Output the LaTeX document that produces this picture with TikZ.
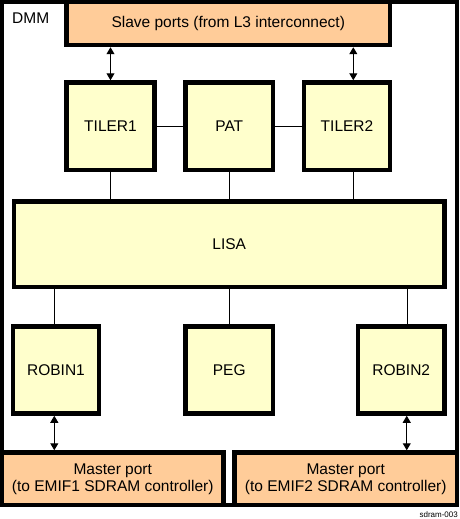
\documentclass[tikz,border=0pt]{standalone}
\usepackage{fontspec}
\setmainfont{Liberation Sans}
\usetikzlibrary{arrows.meta}
\definecolor{peach}{HTML}{FFCC99}
\definecolor{paleyellow}{HTML}{FFFFCC}
\tikzset{
  blk/.style={draw=black, line width=4.5pt, rectangle, inner sep=0pt,
    font=\fontsize{15.5}{16.7}\selectfont},
  port/.style={blk, fill=peach, align=center},
  unit/.style={blk, fill=paleyellow},
  wire/.style={draw=black, line width=1pt},
  biarrow/.style={wire, {Triangle[width=8pt,length=7pt]}-{Triangle[width=8pt,length=7pt]}},
}
\begin{document}
\begin{tikzpicture}[x=1pt,y=-1pt]
\useasboundingbox (0,0) rectangle (459,519);
\fill[white] (0,0) rectangle (459,519);
% DMM frame
\draw[line width=4pt] (2,2) rectangle (457,505);
\node[anchor=base west, inner sep=0pt, font=\fontsize{15.5}{16.7}\selectfont] (dmm) at (12,23.3) {DMM};
% ports
\node[port, minimum width=323.5pt, minimum height=43pt, text depth=2.3pt] (slave) at (228.25,23.5) {Slave ports (from L3 interconnect)};
\node[port, minimum width=221.5pt, minimum height=52.5pt, text depth=1.9pt] (m1) at (112.75,478.75) {Master port\\(to EMIF1 SDRAM controller)};
\node[port, minimum width=222.5pt, minimum height=52.5pt, text depth=1.9pt] (m2) at (345.75,478.75) {Master port\\(to EMIF2 SDRAM controller)};
% units
\node[unit, minimum width=88pt, minimum height=87.5pt] (tiler1) at (110.5,126.25) {TILER1};
\node[unit, minimum width=87.5pt, minimum height=87.5pt] (pat) at (229.25,126.25) {PAT};
\node[unit, minimum width=86pt, minimum height=87.5pt] (tiler2) at (347,126.25) {TILER2};
\node[unit, minimum width=430.5pt, minimum height=85.5pt] (lisa) at (229.25,244.25) {LISA};
\node[unit, minimum width=86pt, minimum height=87pt] (robin1) at (56,370) {ROBIN1};
\node[unit, minimum width=87.5pt, minimum height=87pt] (peg) at (229.25,370) {PEG};
\node[unit, minimum width=86.5pt, minimum height=87pt] (robin2) at (401.25,370) {ROBIN2};
% connector anchor points
\coordinate (t2n) at ([xshift=6.3pt]tiler2.north);
\coordinate (t2s) at ([xshift=6.3pt]tiler2.south);
\coordinate (r1n) at ([xshift=-1.7pt]robin1.north);
\coordinate (r1s) at ([xshift=-1.7pt]robin1.south);
\coordinate (r2n) at ([xshift=6pt]robin2.north);
\coordinate (r2s) at ([xshift=5.5pt]robin2.south);
% connectors
\draw[biarrow] (tiler1.north |- slave.south) -- (tiler1.north);
\draw[biarrow] (t2n |- slave.south) -- (t2n);
\draw[wire] (tiler1.east) -- (pat.west);
\draw[wire] (pat.east) -- (tiler2.west);
\draw[wire] (tiler1.south) -- (tiler1.south |- lisa.north);
\draw[wire] (pat.south) -- (pat.south |- lisa.north);
\draw[wire] (t2s) -- (t2s |- lisa.north);
\draw[wire] (r1n |- lisa.south) -- (r1n);
\draw[wire] (peg.north |- lisa.south) -- (peg.north);
\draw[wire] (r2n |- lisa.south) -- (r2n);
\draw[biarrow] (r1s) -- (r1s |- m1.north);
\draw[biarrow] (r2s) -- (r2s |- m2.north);
% figure id
\node[anchor=base east, inner sep=0pt, font=\fontsize{8}{9}\selectfont] (figid) at (458,517) {sdram-003};
\end{tikzpicture}
\end{document}
